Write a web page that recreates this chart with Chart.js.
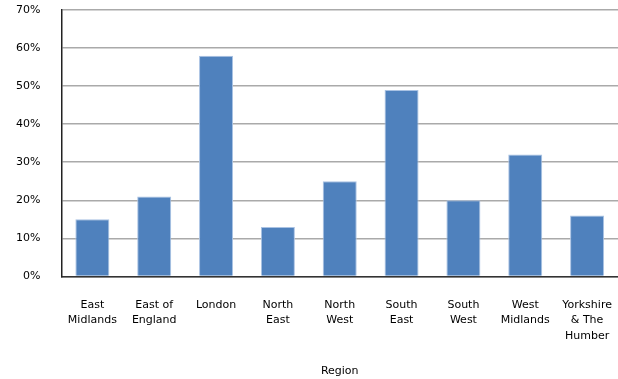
<!DOCTYPE html>
<html>
<head>
<meta charset="utf-8">
<script src="https://cdn.jsdelivr.net/npm/chart.js@4/dist/chart.umd.min.js"></script>
<style>
  html, body { margin: 0; padding: 0; background: #fff; }
  #wrap { width: 618px; height: 379px; }
</style>
</head>
<body>
<div id="wrap"><canvas id="myChart" width="618" height="379"></canvas></div>
<script>
const regions = [
    ['East', 'Midlands'], ['East of', 'England'], 'London', ['North', 'East'],
    ['North', 'West'], ['South', 'East'], ['South', 'West'], ['West', 'Midlands'],
    ['Yorkshire', '& The', 'Humber']
];
const shares = [15, 21, 58, 13, 25, 49, 20, 32, 16];
const yTicks = [0, 10, 20, 30, 40, 50, 60, 70];

const font = { family: 'DejaVu Sans', size: 11, lineHeight: 1.4 };
const tickGap = 21;

// Chart.js reserves the tick padding twice and also pads the axis ends, undo both
function tightAxis(axis) {
    axis.paddingTop = 0;
    axis.paddingBottom = 0;
    axis.paddingLeft = 0;
    axis.paddingRight = 0;
    if (axis.isHorizontal()) axis.height -= tickGap;
    else axis.width -= tickGap;
}

const ctx = document.getElementById('myChart').getContext('2d');
const chart = new Chart(ctx, {
    type: 'bar',
    data: {
        labels: regions,
        datasets: [{
            data: shares,
            backgroundColor: '#4f81bd',
            borderColor: '#a9c2e3',
            borderWidth: 1,
            barPercentage: 0.55,
            categoryPercentage: 1
        }]
    },
    options: {
        responsive: false,
        animation: false,
        layout: { padding: { left: 16, top: 10, right: 0, bottom: 0 } },
        plugins: {
            legend: { display: false },
            tooltip: { enabled: false }
        },
        scales: {
            x: {
                afterFit: tightAxis,
                grid: { color: 'transparent', drawTicks: false },
                border: { color: '#333', width: 1.5 },
                ticks: { color: '#000', font: font, padding: tickGap, maxRotation: 0, autoSkip: false },
                title: { display: true, text: 'Region', color: '#000', font: font, padding: { top: 20, bottom: 0 } }
            },
            y: {
                min: 0,
                max: 70,
                afterFit: tightAxis,
                afterBuildTicks: axis => { axis.ticks = yTicks.map(v => ({ value: v })); },
                grid: { color: '#aaaaaa', lineWidth: 1.5, drawTicks: false },
                border: { color: '#222', width: 1.5 },
                ticks: { color: '#000', font: font, padding: tickGap, callback: v => v + '%' }
            }
        }
    }
});
</script>
</body>
</html>
